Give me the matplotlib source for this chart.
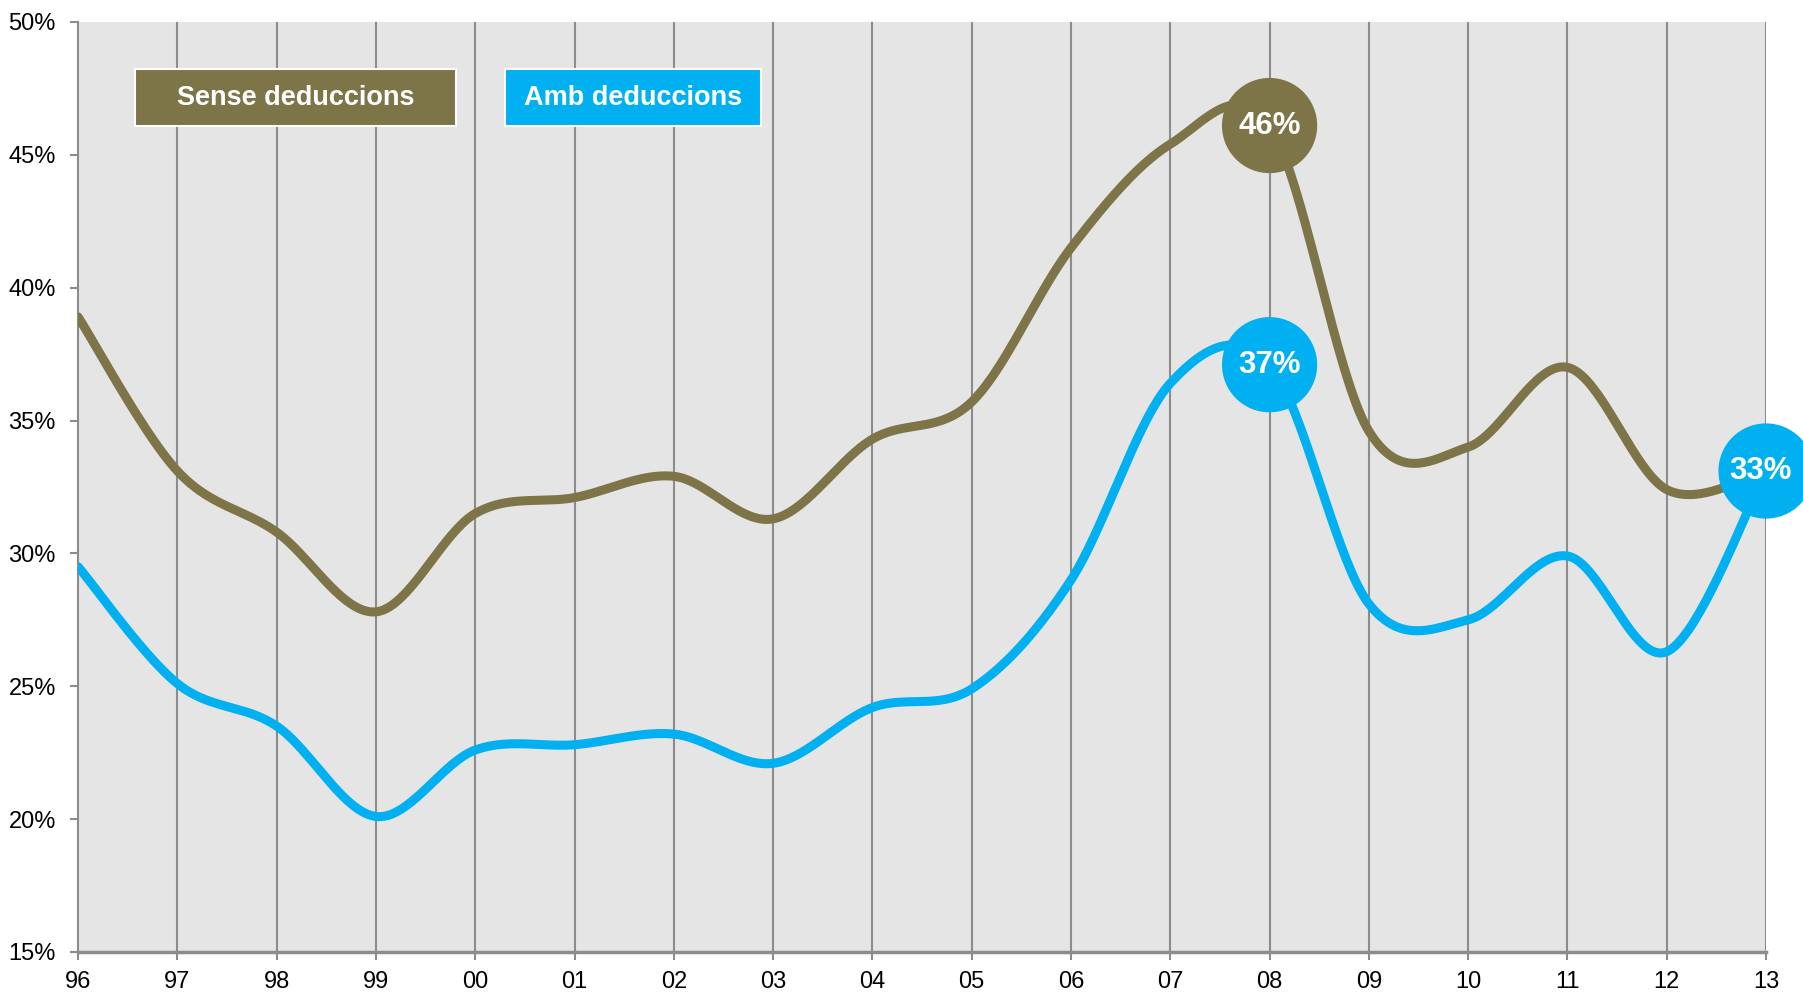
import numpy as np
import matplotlib
matplotlib.use("Agg")
import matplotlib.pyplot as plt
from matplotlib.ticker import FixedLocator
from matplotlib.patches import Rectangle

plt.rcParams['font.family'] = ['Liberation Sans', 'DejaVu Sans']

years = ['96', '97', '98', '99', '00', '01', '02', '03', '04',
         '05', '06', '07', '08', '09', '10', '11', '12', '13']
sense = [38.9, 33.1, 30.8, 27.8, 31.5, 32.1, 32.9, 31.3, 34.3,
         35.7, 41.5, 45.4, 46.1, 34.6, 34.0, 37.0, 32.4, 33.1]
amb = [29.5, 25.1, 23.5, 20.1, 22.6, 22.8, 23.2, 22.1, 24.2,
       24.9, 29.0, 36.4, 37.1, 28.1, 27.5, 29.9, 26.3, 33.1]
highlights = [(12, 'sense', '46%'), (12, 'amb', '37%'), (17, 'amb', '33%')]

OLIVE = '#7d7447'
BLUE = '#00b0f0'
GRID = '#8c8c8c'


def smooth(x, y, n=40):
    # excel-style smoothing: bezier with catmull-rom tangents
    P = np.column_stack([x, y]).astype(float)
    P = np.vstack([P[0], P, P[-1]])
    out = []
    t = np.linspace(0, 1, n)[:, None]
    for i in range(1, len(P) - 2):
        p0, p1, p2, p3 = P[i - 1], P[i], P[i + 1], P[i + 2]
        c1 = p1 + (p2 - p0) / 6
        c2 = p2 - (p3 - p1) / 6
        seg = ((1 - t) ** 3) * p1 + 3 * ((1 - t) ** 2) * t * c1 + 3 * (1 - t) * t ** 2 * c2 + t ** 3 * p2
        out.append(seg if i == 1 else seg[1:])
    out = np.vstack(out)
    return out[:, 0], out[:, 1]


fig = plt.figure(figsize=(18.03, 9.96), dpi=100)
ax = fig.add_axes([0.0433, 0.0442, 0.9362, 0.9338])
ax.set_facecolor('#e5e5e5')

x = np.arange(len(years))
ax.xaxis.set_major_locator(FixedLocator(x))
ax.set_xticklabels(years, fontsize=17)
ax.set_xlim(0, len(years) - 1)
ax.set_ylim(15, 50)
ax.set_yticks(np.arange(15, 51, 5))
ax.set_yticklabels([f"{v}%" for v in range(15, 51, 5)], fontsize=17)

for xi in x[1:]:
    ax.axvline(xi, color=GRID, lw=1.5, zorder=1)

for s in ['top', 'right']:
    ax.spines[s].set_visible(False)
ax.spines['left'].set_color(GRID)
ax.spines['left'].set_linewidth(1.5)
ax.spines['bottom'].set_color(GRID)
ax.spines['bottom'].set_linewidth(2.5)
ax.tick_params(axis='both', colors=GRID, length=6, width=1.5, labelcolor='black')
ax.tick_params(axis='x', pad=8)
ax.tick_params(axis='y', pad=10)

xs, ys = smooth(x, sense)
ax.plot(xs, ys, color=OLIVE, lw=6.5, solid_capstyle='round', zorder=3)
xa, ya = smooth(x, amb)
ax.plot(xa, ya, color=BLUE, lw=6.5, solid_capstyle='round', zorder=3)

series = {'sense': (sense, OLIVE), 'amb': (amb, BLUE)}
for idx, key, lab in highlights:
    vals, col = series[key]
    ax.scatter([x[idx]], [vals[idx]], s=4700, color=col, zorder=5, clip_on=False, edgecolors='none')
    ax.text(x[idx] - 0.06 * (idx == 17), vals[idx], lab, color='white', fontsize=22.5,
            fontweight='bold', ha='center', va='center', zorder=6, clip_on=False)

# legend boxes
for x0, w, col, lab in [(0.0338, 0.190, OLIVE, 'Sense deduccions'),
                        (0.253, 0.1517, BLUE, 'Amb deduccions')]:
    ax.add_patch(Rectangle((x0, 0.888), w, 0.0613, transform=ax.transAxes,
                           fc=col, ec='white', lw=1.5, zorder=7))
    ax.text(x0 + w / 2, 0.888 + 0.0613 / 2, lab, transform=ax.transAxes, color='white',
            fontsize=19.5, fontweight='bold', ha='center', va='center', zorder=8)

fig.savefig('out.png', dpi=100)
